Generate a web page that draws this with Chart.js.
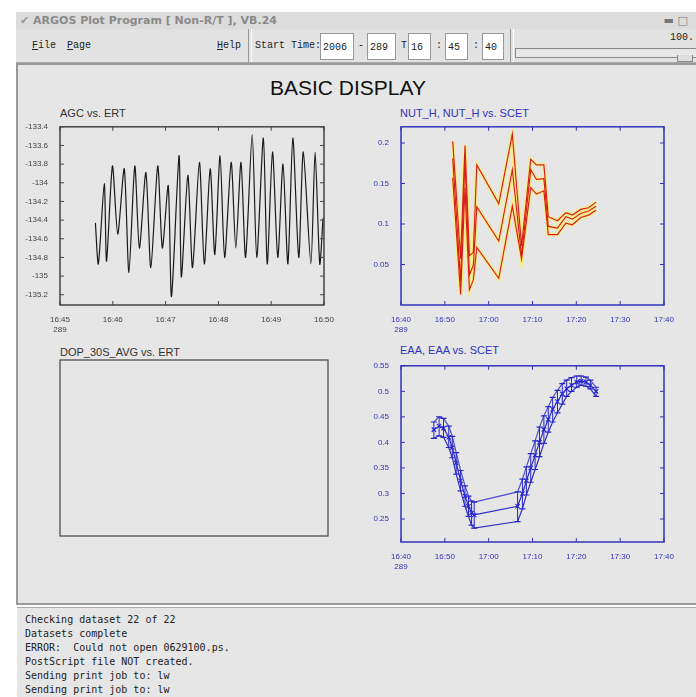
<!DOCTYPE html>
<html>
<head>
<meta charset="utf-8">
<script src="https://cdn.jsdelivr.net/npm/chart.js@4.4.0/dist/chart.umd.min.js"></script>
<style>
  body { margin: 0; width: 696px; height: 697px; background: #fff; position: relative; overflow: hidden; font-family: "Liberation Sans", Arial, sans-serif; }
  .abs { position: absolute; }
  #titlebar { left: 16px; top: 12px; width: 680px; height: 17px; background: #dcdcdc; border-bottom: 1px solid #bbb; color: #8a8a8a; font: bold 11px "DejaVu Sans", sans-serif; line-height: 17px; }
  #toolbar { left: 16px; top: 29px; width: 680px; height: 33px; background: #e2e2e2; border-bottom: 1px solid #aaa; font: 10px "Liberation Mono", monospace; color: #222; }
  .box { position: absolute; top: 4px; height: 27px; background: #fff; border: 1px solid #999; line-height: 27px; padding-left: 2px; box-sizing: border-box; }
  .sep { position: absolute; top: 0; width: 2px; height: 33px; border-left: 1px solid #999; border-right: 1px solid #fff; }
  #panel { left: 16px; top: 63px; width: 680px; height: 542px; background: #e6e6e6; border: 2px solid #999; border-right: none; box-sizing: border-box; }
  #status { left: 17px; top: 607px; width: 679px; height: 90px; background: #e6e6e6; border-top: 1px solid #aaa; font: 10px "DejaVu Sans Mono", monospace; color: #222; line-height: 14px; padding: 5px 8px; box-sizing: border-box; white-space: pre; }
  .ptitle { position: absolute; font-size: 11px; }
  canvas { position: absolute; }
</style>
</head>
<body>
<div id="titlebar" class="abs"><span style="margin-left:4px;color:#999">&#10004;</span> ARGOS Plot Program [ Non-R/T ], VB.24<span style="position:absolute;right:8px;color:#777">&#9644; &#9633;</span></div>
<div id="toolbar" class="abs">
  <span class="abs" style="left:16px;top:11px"><u>F</u>ile</span>
  <span class="abs" style="left:51px;top:11px"><u>P</u>age</span>
  <span class="abs" style="left:201px;top:11px"><u>H</u>elp</span>
  <div class="sep" style="left:232px"></div>
  <span class="abs" style="left:239px;top:11px">Start Time:</span>
  <div class="box" style="left:304px;width:34px">2006</div>
  <span class="abs" style="left:342px;top:11px">-</span>
  <div class="box" style="left:351px;width:29px">289</div>
  <span class="abs" style="left:385px;top:11px">T</span>
  <div class="box" style="left:392px;width:23px">16</div>
  <span class="abs" style="left:420px;top:11px">:</span>
  <div class="box" style="left:429px;width:23px">45</div>
  <span class="abs" style="left:457px;top:11px">:</span>
  <div class="box" style="left:466px;width:22px">40</div>
  <div class="sep" style="left:494px"></div>
  <span class="abs" style="right:2px;top:3px">100.</span>
  <div class="abs" style="left:499px;top:19px;width:181px;height:8px;border:1px solid #888;border-right:none;background:#e8e8e8"></div>
  <div class="abs" style="left:661px;top:26px;width:14px;height:6px;border:1px solid #888;border-top:none;background:#ddd"></div>
</div>
<div id="panel" class="abs"></div>
<div class="abs" style="left:0;top:76px;width:696px;text-align:center;font-size:21px;color:#111">BASIC DISPLAY</div>
<div class="ptitle" style="left:60px;top:107px;color:#333">AGC vs. ERT</div>
<div class="ptitle" style="left:400px;top:107px;color:#3333bb">NUT_H, NUT_H vs. SCET</div>
<div class="ptitle" style="left:60px;top:346px;color:#333">DOP_30S_AVG vs. ERT</div>
<div class="ptitle" style="left:400px;top:344px;color:#3333bb">EAA, EAA vs. SCET</div>
<canvas id="agc" width="316" height="217" style="left:20px;top:118px"></canvas>
<canvas id="nut" width="315" height="217" style="left:361px;top:118px"></canvas>
<canvas id="dop" width="316" height="212" style="left:20px;top:354px"></canvas>
<canvas id="eaa" width="315" height="215" style="left:361px;top:357px"></canvas>
<div id="status" class="abs">Checking dataset 22 of 22
Datasets complete
ERROR:  Could not open 0629100.ps.
PostScript file NOT created.
Sending print job to: lw
Sending print job to: lw</div>
<script>
// AGC vs ERT: seconds after 16:45:00
const agcSec = [40.2, 43.6, 50.3, 52.9, 59.6, 65.6, 73.0, 78.3, 85.0, 90.2, 97.6, 103.2, 111.1, 116.3, 123.0, 126.7,
  135.3, 137.9, 145.3, 150.6, 158.4, 164.0, 170.7, 175.9, 181.9, 187.1, 194.5, 199.8, 205.7, 210.9, 218.4, 223.6,
  231.1, 235.5, 241.5, 247.5, 253.4, 259.0, 264.6, 271.3, 276.5, 285.1, 289.9, 295.2, 298.9];
const agcVal = [-134.43, -134.87, -134.01, -134.84, -133.82, -134.55, -133.85, -134.96, -133.82, -134.70, -133.89, -134.91,
  -133.82, -134.70, -134.03, -135.22, -133.71, -135.01, -133.92, -134.91, -133.78, -134.87, -133.85, -134.77,
  -133.71, -134.80, -133.78, -134.70, -133.78, -134.80, -133.48, -134.80, -133.52, -134.87, -133.67, -134.80,
  -133.80, -134.87, -133.52, -134.80, -133.67, -134.87, -133.67, -134.87, -134.38];
const agcTicks = ['16:45', '16:46', '16:47', '16:48', '16:49', '16:50'];

// NUT_H: minutes after 16:40
const nutMin = [11.8, 13.6, 14.6, 15.6, 16.5, 17.3, 22.3, 25.4, 27.5, 29.6, 30.9, 32.6, 33.6, 35.7, 37.6, 39.1, 41.0, 42.8, 44.5];
const nutHigh = [0.202, 0.057, 0.197, 0.061, 0.065, 0.173, 0.125, 0.211, 0.073, 0.180, 0.173, 0.173, 0.109, 0.104, 0.114, 0.111, 0.118, 0.120, 0.127];
const nutMid = [0.181, 0.029, 0.181, 0.037, 0.049, 0.121, 0.079, 0.167, 0.061, 0.167, 0.155, 0.156, 0.097, 0.095, 0.109, 0.106, 0.113, 0.116, 0.122];
const nutLow = [0.157, 0.013, 0.145, 0.019, 0.031, 0.071, 0.033, 0.122, 0.057, 0.145, 0.137, 0.141, 0.087, 0.087, 0.101, 0.099, 0.108, 0.111, 0.117];

// EAA: minutes after 16:40
const eaaMin = [7.5, 8.7, 9.7, 10.9, 11.7, 12.6, 13.6, 14.6, 15.4, 16.1, 16.7, 26.6, 27.7, 28.6, 29.6, 30.6, 31.6,
  32.6, 33.6, 34.6, 35.7, 36.8, 37.8, 38.9, 40.1, 41.1, 42.2, 43.2, 44.5];
const eaaHigh = [0.44, 0.45, 0.447, 0.432, 0.412, 0.38, 0.345, 0.315, 0.295, 0.285, 0.283, 0.303, 0.328, 0.352, 0.378,
  0.403, 0.43, 0.452, 0.47, 0.488, 0.502, 0.515, 0.522, 0.527, 0.53, 0.53, 0.528, 0.522, 0.508];
const eaaMid = [0.425, 0.432, 0.428, 0.41, 0.39, 0.36, 0.325, 0.295, 0.275, 0.262, 0.258, 0.275, 0.3, 0.325, 0.35,
  0.375, 0.4, 0.425, 0.445, 0.465, 0.48, 0.495, 0.505, 0.512, 0.518, 0.52, 0.518, 0.512, 0.5];
const eaaLow = [0.408, 0.413, 0.41, 0.39, 0.37, 0.338, 0.305, 0.275, 0.255, 0.238, 0.232, 0.245, 0.27, 0.297, 0.322,
  0.347, 0.372, 0.398, 0.42, 0.44, 0.458, 0.475, 0.49, 0.5, 0.508, 0.512, 0.51, 0.505, 0.49];
const scetTicks = ['16:40', '16:50', '17:00', '17:10', '17:20', '17:30', '17:40'];

const pts = (xs, ys) => xs.map((x, i) => ({x: x, y: ys[i]}));

// frame round the plot area with inward tick marks
const framePlugin = {
  id: 'frame',
  afterDraw(chart, args, opts) {
    const {ctx, chartArea: a, scales} = chart;
    ctx.save();
    ctx.strokeStyle = opts.color;
    ctx.lineWidth = 1.5;
    ctx.strokeRect(a.left, a.top, a.right - a.left, a.bottom - a.top);
    ctx.lineWidth = 1;
    ctx.beginPath();
    scales.x.ticks.forEach(t => {
      const px = scales.x.getPixelForValue(t.value);
      ctx.moveTo(px, a.bottom); ctx.lineTo(px, a.bottom - 4);
      ctx.moveTo(px, a.top); ctx.lineTo(px, a.top + 4);
    });
    scales.y.ticks.forEach(t => {
      if (!t.label) return;
      const py = scales.y.getPixelForValue(t.value);
      ctx.moveTo(a.left, py); ctx.lineTo(a.left + 4, py);
      ctx.moveTo(a.right, py); ctx.lineTo(a.right - 4, py);
    });
    ctx.stroke();
    ctx.restore();
  }
};

function makeOptions(color, x, y) {
  const font = {family: 'Liberation Sans', size: 8};
  return {
    responsive: false,
    animation: false,
    layout: {padding: {top: 6, right: 8}},
    plugins: {legend: {display: false}, tooltip: {enabled: false}, frame: {color: color}},
    elements: {point: {radius: 0}},
    scales: {
      x: Object.assign({
        type: 'linear',
        grid: {display: false},
        border: {display: false},
        afterFit: s => { s.height = 30; },
        ticks: Object.assign({color: color, font: font, maxRotation: 0, padding: 2}, x.ticks)
      }, x.range),
      y: Object.assign({
        grid: {display: false},
        border: {display: false},
        afterFit: s => { s.width = 40; },
        ticks: Object.assign({color: color, font: font, padding: 4}, y.ticks)
      }, y.range)
    }
  };
}

function keepStep(step, fmt) {
  return v => {
    const r = v / step;
    return Math.abs(r - Math.round(r)) < 1e-6 ? fmt(v) : '';
  };
}

function timeLabel(list, step) {
  return (v) => {
    const i = Math.round(v / step);
    if (Math.abs(v / step - i) > 1e-6) return '';
    return i === 0 ? [list[i], '289'] : list[i];
  };
}

new Chart(document.getElementById('agc'), {
  type: 'line',
  data: {datasets: [{data: pts(agcSec, agcVal), borderColor: '#1a1a1a', borderWidth: 1.2, tension: 0.25}]},
  options: makeOptions('#444',
    {range: {min: 0, max: 300}, ticks: {stepSize: 60, callback: timeLabel(agcTicks, 60)}},
    {range: {min: -135.31, max: -133.4}, ticks: {stepSize: 0.2, callback: keepStep(0.2, v => v.toFixed(1).replace(/\.0$/, ''))}}),
  plugins: [framePlugin]
});

new Chart(document.getElementById('dop'), {
  type: 'line',
  data: {datasets: []},
  options: {responsive: false, animation: false, layout: {padding: {top: 6, right: 8}},
    plugins: {legend: {display: false}, frame: {color: '#444'}},
    scales: {
      x: {type: 'linear', min: 0, max: 1, display: true, grid: {display: false}, border: {display: false},
        ticks: {display: false}, afterFit: s => { s.height = 30; }},
      y: {min: 0, max: 1, display: true, grid: {display: false}, border: {display: false},
        ticks: {display: false}, afterFit: s => { s.width = 40; }}
    }},
  plugins: [{
    id: 'box',
    afterDraw(chart) {
      const {ctx, chartArea: a} = chart;
      ctx.save(); ctx.strokeStyle = '#444'; ctx.lineWidth = 1.2;
      ctx.strokeRect(a.left, a.top, a.right - a.left, a.bottom - a.top);
      ctx.restore();
    }
  }]
});

// first datasets are painted last, so the red lines come first and the yellow halo after
const halo = c => ({borderColor: c, borderWidth: 4, tension: 0});
new Chart(document.getElementById('nut'), {
  type: 'line',
  data: {datasets: [
    {data: pts(nutMin, nutHigh), borderColor: '#d62020', borderWidth: 1.2},
    {data: pts(nutMin, nutMid), borderColor: '#d62020', borderWidth: 1.2},
    {data: pts(nutMin, nutLow), borderColor: '#d62020', borderWidth: 1.2},
    Object.assign({data: pts(nutMin, nutHigh)}, halo('rgba(255,240,90,0.6)')),
    Object.assign({data: pts(nutMin, nutMid)}, halo('rgba(255,240,90,0.6)')),
    Object.assign({data: pts(nutMin, nutLow)}, halo('rgba(255,240,90,0.6)'))
  ]},
  options: makeOptions('#3333bb',
    {range: {min: 0, max: 60}, ticks: {stepSize: 10, callback: timeLabel(scetTicks, 10)}},
    {range: {min: 0, max: 0.22}, ticks: {stepSize: 0.05, callback: v => (v > 0.01 && keepStep(0.05, String)(v)) ? String(+v.toFixed(2)) : ''}}),
  plugins: [framePlugin]
});

// error bars: vertical segments from low to high at every sample
const eaaBars = [];
eaaMin.forEach((x, i) => {
  eaaBars.push({x: x, y: eaaLow[i]}, {x: x, y: eaaHigh[i]}, {x: x, y: null});
});
new Chart(document.getElementById('eaa'), {
  type: 'line',
  data: {datasets: [
    {data: eaaBars, borderColor: '#2626c8', borderWidth: 1, spanGaps: false},
    {data: pts(eaaMin, eaaHigh), borderColor: '#5050c8', borderWidth: 1.2, pointStyle: 'line', pointRadius: 3, pointBorderColor: '#2626c8'},
    {data: pts(eaaMin, eaaMid), borderColor: '#2a2ad0', borderWidth: 1.2, pointStyle: 'crossRot', pointRadius: 3, pointBorderColor: '#2a2ad0'},
    {data: pts(eaaMin, eaaLow), borderColor: '#3030c0', borderWidth: 1.2, pointStyle: 'line', pointRadius: 3, pointBorderColor: '#2626c8'}
  ]},
  options: makeOptions('#3333bb',
    {range: {min: 0, max: 60}, ticks: {stepSize: 10, callback: timeLabel(scetTicks, 10)}},
    {range: {min: 0.205, max: 0.55}, ticks: {stepSize: 0.05, callback: keepStep(0.05, v => String(+v.toFixed(2)))}}),
  plugins: [framePlugin]
});
</script>
</body>
</html>
